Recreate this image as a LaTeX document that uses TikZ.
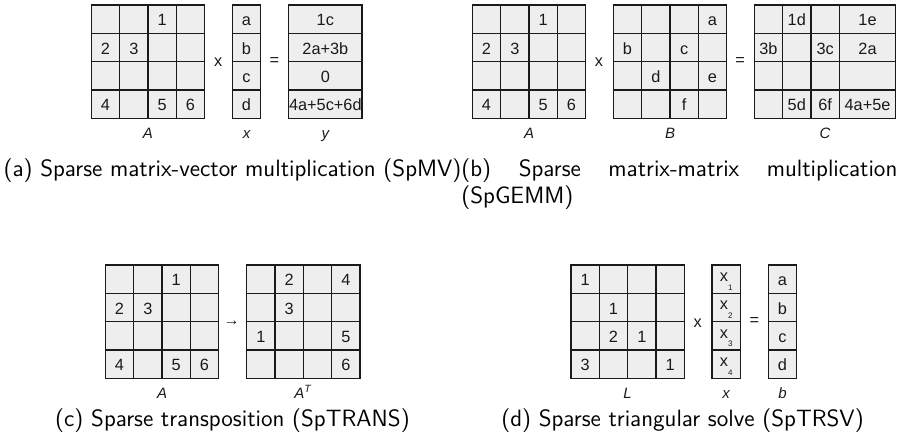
\documentclass[tikz,border=0pt]{standalone}
\usepackage{fontspec}
\setmainfont{Liberation Sans}
\definecolor{cellgray}{HTML}{EEEEEE}
\definecolor{ink}{HTML}{1A1A1A}
\tikzset{
  cell/.style={fill=cellgray, inner sep=0pt, outer sep=0pt, minimum height=14.165pt},
  gridline/.style={draw=ink, line width=0.7pt},
  val/.style={text=ink, font=\fontsize{8.15}{9}\selectfont, inner sep=0pt, anchor=base},
  optxt/.style={text=ink, font=\fontsize{8.15}{9}\selectfont, inner sep=0pt},
  lab/.style={text=ink, font=\fontsize{7.5}{9}\selectfont\itshape, inner sep=0pt, anchor=base},
  captxt/.style={text=black, font=\fontsize{11.8}{14}\selectfont\sffamily, inner sep=0pt, anchor=base},
}
% name, x0, y0, cols, rows, column width (px)
\newcommand{\grid}[6]{%
  \foreach \ri in {1,...,#5}{\foreach \ci in {1,...,#4}{%
    \node[cell, minimum width=#6*0.5pt] (#1-\ri-\ci) at ({#2+(\ci-0.5)*#6},{#3+(\ri-0.5)*28.33}) {};}}%
  \foreach \ri in {1,...,#5}{\foreach \ci in {1,...,#4}{%
    \draw[gridline] (#1-\ri-\ci.north west) rectangle (#1-\ri-\ci.south east);}}}
% name, list of row/col/text
\newcommand{\vals}[2]{%
  \foreach \ri/\ci/\tx in {#2}{\node[val] (#1-\ri-\ci-t) at ([yshift=-3.4pt]#1-\ri-\ci.center) {\tx};}}
\begin{document}
\begin{tikzpicture}[x=0.5pt,y=-0.5pt]
\useasboundingbox (0,0) rectangle (909,444);
% ---------- (a) SpMV ----------
\grid{aA}{91.3}{5}{4}{4}{28.33}
\vals{aA}{1/3/1,2/1/2,2/2/3,4/1/4,4/3/5,4/4/6}
\grid{ax}{232.3}{5}{1}{4}{28.33}
\vals{ax}{1/1/a,2/1/b,3/1/c,4/1/d}
\grid{ay}{288.7}{5}{1}{4}{73.3}
\vals{ay}{1/1/1c,2/1/2a+3b,3/1/0,4/1/4a+5c+6d}
\node[optxt] (aop1) at (218.3,62) {x};
\node[optxt] (aop2) at (274.3,62) {=};
\node[lab] (alA) at (147.8,138.3) {A};
\node[lab] (alx) at (246.5,138.3) {x};
\node[lab] (aly) at (325.3,138.3) {y};
% ---------- (b) SpGEMM ----------
\grid{bA}{472.3}{5}{4}{4}{28.33}
\vals{bA}{1/3/1,2/1/2,2/2/3,4/1/4,4/3/5,4/4/6}
\grid{bB}{613.3}{5}{4}{4}{28.33}
\vals{bB}{1/4/a,2/1/b,2/3/c,3/2/d,3/4/e,4/3/f}
\grid{bC}{754.3}{5}{3}{4}{28.33}
\vals{bC}{1/2/1d,2/1/3b,2/3/3c,4/2/5d,4/3/6f}
\grid{bCw}{839.3}{5}{1}{4}{56.4}
\vals{bCw}{1/1/1e,2/1/2a,4/1/4a+5e}
\node[optxt] (bop1) at (599,62) {x};
\node[optxt] (bop2) at (740,62) {=};
\node[lab] (blA) at (529,138.3) {A};
\node[lab] (blB) at (670,138.3) {B};
\node[lab] (blC) at (825,138.3) {C};
% ---------- (c) SpTRANS ----------
\grid{cA}{105.3}{265}{4}{4}{28.33}
\vals{cA}{1/3/1,2/1/2,2/2/3,4/1/4,4/3/5,4/4/6}
\grid{cT}{246.7}{265}{4}{4}{28.33}
\vals{cT}{1/2/2,1/4/4,2/2/3,3/1/1,3/4/5,4/4/6}
\node[optxt, font=\fontsize{8}{9}\selectfont] (carr) at (231.7,323.3) {→};
\node[lab] (clA) at (162,398.7) {A};
\node[lab] (clT) at (303,398.7) {A\textsuperscript{T}};
% ---------- (d) SpTRSV ----------
\grid{dL}{571}{265}{4}{4}{28.33}
\vals{dL}{1/1/1,2/2/1,3/2/2,3/3/1,4/1/3,4/4/1}
\grid{dx}{712}{265}{1}{4}{28.33}
\foreach \ri in {1,...,4}{\node[val] (dx-\ri-1-t) at ([yshift=-1.25pt]dx-\ri-1.center) {x\raisebox{-4.2pt}{\fontsize{4}{4.5}\selectfont\ri}};}
\grid{db}{768.3}{265}{1}{4}{28.33}
\vals{db}{1/1/a,2/1/b,3/1/c,4/1/d}
\node[optxt] (dop1) at (697.7,323) {x};
\node[optxt] (dop2) at (754.3,322) {=};
\node[lab] (dlL) at (627.5,398.7) {L};
\node[lab] (dlx) at (726,398.7) {x};
\node[lab] (dlb) at (782.5,398.7) {b};
% ---------- captions ----------
\node[captxt] (capa) at (232.5,176) {(a) Sparse matrix-vector multiplication (SpMV)};
\node[captxt, anchor=base west] (capb1) at (461,176) {\makebox[218pt][s]{(b) Sparse matrix-matrix multiplication}};
\node[captxt, anchor=base west] (capb2) at (461,203) {(SpGEMM)};
\node[captxt] (capc) at (232.5,426) {(c) Sparse transposition (SpTRANS)};
\node[captxt] (capd) at (682.5,426) {(d) Sparse triangular solve (SpTRSV)};
\end{tikzpicture}
\end{document}
